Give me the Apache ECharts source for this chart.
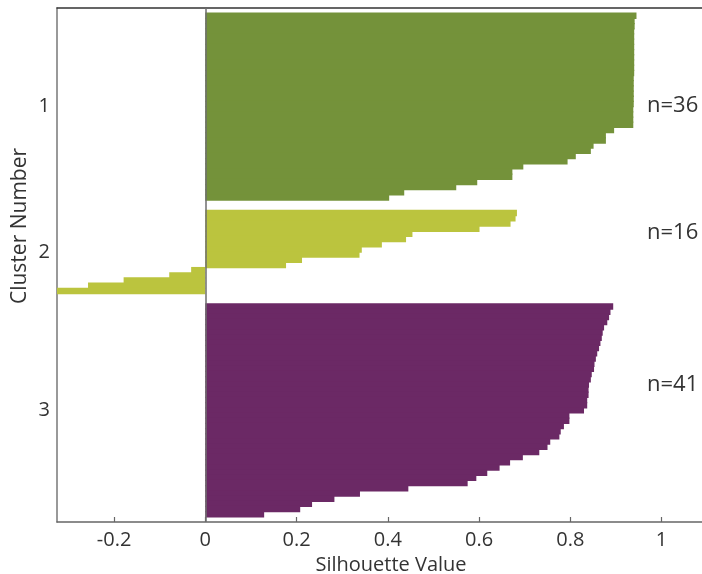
<!DOCTYPE html>
<html><head><meta charset="utf-8">
<script src="https://cdn.jsdelivr.net/npm/echarts@6/dist/echarts.min.js"></script>
<style>html,body{margin:0;padding:0;background:#fff}#c{width:702px;height:574px}</style>
</head><body><div id="c"></div>
<script>
// Silhouette values per cluster, top to bottom as drawn
const cluster1 = [0.945, 0.941, 0.941, 0.940, 0.940, 0.940, 0.940, 0.940, 0.940, 0.940, 0.940,
  0.940, 0.939, 0.939, 0.939, 0.939, 0.939, 0.939, 0.938, 0.938, 0.938, 0.938,
  0.896, 0.878, 0.878, 0.851, 0.845, 0.812, 0.794, 0.697, 0.673, 0.673, 0.596, 0.550, 0.436, 0.403];
const cluster2 = [0.683, 0.680, 0.669, 0.601, 0.454, 0.440, 0.387, 0.343, 0.338, 0.212, 0.177,
  -0.031, -0.079, -0.179, -0.257, -0.335];
const cluster3 = [0.894, 0.888, 0.885, 0.881, 0.874, 0.871, 0.869, 0.866, 0.863, 0.859, 0.856,
  0.853, 0.852, 0.847, 0.845, 0.841, 0.840, 0.840, 0.837, 0.837, 0.830, 0.798, 0.798, 0.786,
  0.779, 0.776, 0.756, 0.750, 0.732, 0.696, 0.668, 0.645, 0.618, 0.594, 0.575, 0.445, 0.339,
  0.283, 0.234, 0.208, 0.129];
const clusterNames = ['1', '2', '3'];
const countLabels = ['n=36', 'n=16', 'n=41'];
const xTicks = [-0.2, 0, 0.2, 0.4, 0.6, 0.8, 1];
const colors = ['#74923a', '#bbc43e', '#6b2965'];

const clusters = [cluster1, cluster2, cluster3];
const padSlots = 1, gapSlots = 2;
let rows = [];
let starts = [];
for (let i = 0; i < padSlots; i++) rows.push(null);
clusters.forEach((c, ci) => {
  if (ci > 0) for (let g = 0; g < gapSlots; g++) rows.push(null);
  starts.push(rows.length);
  c.forEach(v => rows.push({ c: ci, v: v }));
});
for (let i = 0; i < padSlots; i++) rows.push(null);
const nRows = rows.length;
const categories = rows.map((r, i) => String(i));
const centers = clusters.map((c, ci) => starts[ci] + c.length / 2);

const series = clusters.map((c, ci) => ({
  type: 'bar',
  name: clusterNames[ci],
  xAxisIndex: 0, yAxisIndex: 0,
  data: rows.map(r => (r && r.c === ci) ? r.v : '-'),
  barWidth: '125%',
  barGap: '-100%',
  itemStyle: { color: colors[ci] },
  clip: true,
  silent: true
}));
series[0].markLine = {
  silent: true, symbol: 'none', z: 10,
  label: { show: false },
  lineStyle: { color: '#6e6e6e', width: 1.5, type: 'solid' },
  data: [{ xAxis: 0 }]
};

const FONT = 'Open Sans';
const chart = echarts.init(document.getElementById('c'), null, { renderer: 'canvas' });
chart.setOption({
  animation: false,
  backgroundColor: '#fff',
  textStyle: { fontFamily: FONT },
  grid: { left: 57, right: -23, top: 8, bottom: 52, outerBoundsMode: 'none', containLabel: false, show: false },
  xAxis: [{
    type: 'value', position: 'bottom', min: -0.325, max: 1.139,
    axisLine: { show: true, onZero: false, lineStyle: { color: '#666', width: 1.5 } },
    axisTick: { show: true, inside: true, length: 5, customValues: xTicks, lineStyle: { color: '#666', width: 1.2 } },
    axisLabel: { customValues: xTicks, fontSize: 20, color: '#333', margin: 8,
      formatter: v => String(v) },
    splitLine: { show: false },
    name: 'Silhouette Value', nameLocation: 'middle', nameGap: 30,
    nameTextStyle: { fontSize: 20, color: '#333' }
  }, {
    type: 'value', position: 'top', min: -0.325, max: 1.139,
    axisLine: { show: true, onZero: false, lineStyle: { color: '#333', width: 1.5 } },
    axisTick: { show: false }, axisLabel: { show: false }, splitLine: { show: false }
  }],
  yAxis: [{
    type: 'category', data: categories, inverse: true, position: 'left',
    boundaryGap: true,
    axisLine: { show: false }, axisTick: { show: false }, axisLabel: { show: false }, splitLine: { show: false }
  }, {
    type: 'value', min: 0, max: nRows, inverse: true, position: 'left',
    axisLine: { show: true, onZero: false, lineStyle: { color: '#777', width: 1.5 } },
    axisTick: { show: false },
    axisLabel: { customValues: centers, fontSize: 20, color: '#333', margin: 7,
      formatter: v => { const i = centers.findIndex(c => Math.abs(c - v) < 1e-6); return i >= 0 ? clusterNames[i] : ''; } },
    splitLine: { show: false }
  }],
  graphic: [
    { type: 'text', x: 20, y: 226, rotation: Math.PI / 2,
      style: { text: 'Cluster Number', fontSize: 21, fill: '#333', fontFamily: FONT, align: 'center', verticalAlign: 'middle' } },
    ...countLabels.map((t, i) => ({
      type: 'text', x: 647, y: [106, 233, 385][i],
      style: { text: t, fontSize: 22, fill: '#333', fontFamily: FONT, align: 'left', verticalAlign: 'middle' }
    }))
  ],
  series: series
});
</script></body></html>
